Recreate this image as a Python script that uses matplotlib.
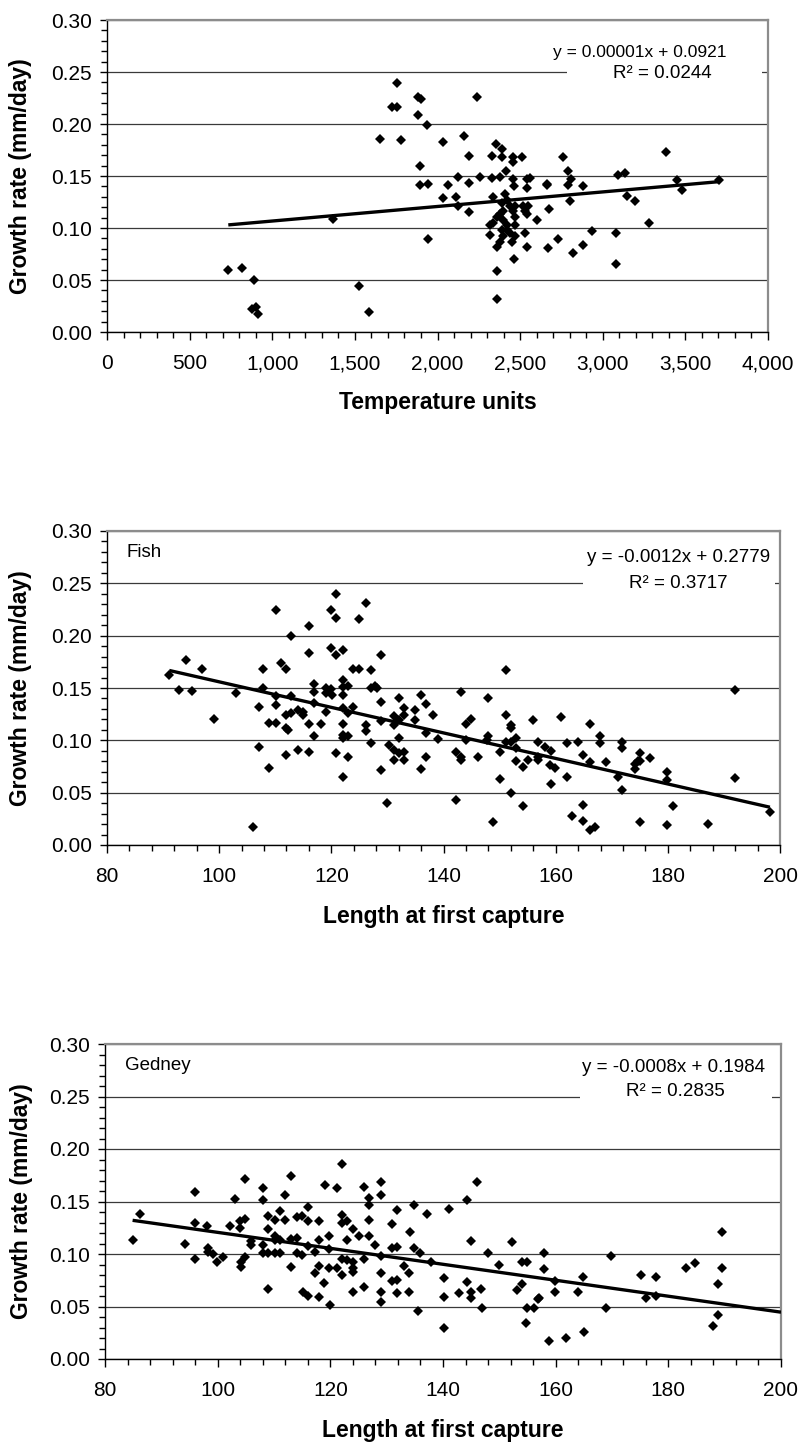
import numpy as np
import matplotlib.pyplot as plt
from matplotlib.ticker import MultipleLocator, FuncFormatter
from matplotlib.patches import Rectangle

plt.rcParams['font.family'] = ['Liberation Sans', 'DejaVu Sans']

W, H = 798, 1445

# ---------------------------------
# panel 1: growth vs temperature units
temp_units = [734, 818, 890, 878, 902, 914, 1369, 1523, 1586, 1652, 1777, 1757, 1727, 1757,
              1880, 1900, 1880, 1934, 1894, 1894, 1944, 1944,
              2237, 2035, 2162, 2192, 2352, 2392, 2331, 2392, 2458, 2509, 2458, 2757, 3383,
              2122, 2257, 2192, 2061, 2331, 2378, 2414, 2458, 2539, 2559, 2464, 2539, 2660,
              2664, 2792, 2808, 2787, 2882, 3090, 3134, 3447, 3477, 3705, 3144, 3195, 3278,
              2035, 2112, 2122, 2192, 2334,
              2409, 2419, 2389, 2439, 2469, 2459, 2399, 2378, 2358, 2338, 2318, 2398, 2419,
              2469, 2469, 2389, 2419, 2439, 2469, 2398, 2378, 2358, 2318, 2449, 2519, 2550,
              2530, 2540, 2530, 2540, 2600, 2677, 2671, 2731, 2818, 2883, 2933, 3080, 3080,
              2465, 2358, 2358, 2802]
growth_temp = [0.060, 0.062, 0.050, 0.022, 0.024, 0.017, 0.109, 0.044, 0.019, 0.186, 0.185, 0.239,
               0.216, 0.216, 0.226, 0.224, 0.209, 0.199, 0.160, 0.141, 0.142, 0.089,
               0.226, 0.183, 0.188, 0.169, 0.181, 0.176, 0.169, 0.168, 0.168, 0.168, 0.163,
               0.168, 0.173,
               0.149, 0.149, 0.143, 0.141, 0.148, 0.149, 0.155, 0.147, 0.147, 0.148, 0.140,
               0.138, 0.142, 0.141, 0.155, 0.147, 0.141, 0.140, 0.151, 0.153, 0.146, 0.137,
               0.146, 0.131, 0.126, 0.105,
               0.129, 0.130, 0.121, 0.115, 0.130,
               0.133, 0.127, 0.124, 0.121, 0.121, 0.116, 0.116, 0.113, 0.111, 0.105, 0.103,
               0.108, 0.103, 0.111, 0.103, 0.098, 0.098, 0.095, 0.092, 0.092, 0.087, 0.082,
               0.093, 0.087, 0.121, 0.121, 0.116, 0.113, 0.095, 0.082, 0.108, 0.118, 0.081,
               0.089, 0.076, 0.084, 0.097, 0.095, 0.065, 0.070, 0.059, 0.032, 0.126]
temp_slope, temp_intercept = 0.000014, 0.0927
temp_eq = ['y = 0.00001x + 0.0921', 'R² = 0.0244']

# ---------------------------------
# panel 2: Fish, growth vs length at first capture
fish_length = [91.1, 92.8, 94.1, 95.1, 96.9, 99.0, 103.0, 107.1, 107.1, 107.9, 107.9, 108.9, 108.9,
               110.1, 110.1, 110.1, 111.0, 111.9, 110.1, 111.9, 111.9, 112.2, 112.8, 112.8, 112.8,
               111.9, 114.1, 115.0, 115.0, 114.1, 116.0, 116.0, 116.0, 116.0, 116.9, 116.9, 116.9,
               116.9, 118.1, 119.1, 119.1, 119.9, 120.1, 119.1, 119.9, 119.9, 120.8, 120.8, 120.8,
               122.0, 122.0, 122.0, 122.0, 122.0, 120.8, 122.1, 122.1, 122.1, 123.0, 122.1, 123.0,
               123.0, 123.0, 123.9, 123.9, 125.0, 125.0, 126.1, 126.1, 126.1, 127.0, 127.0, 127.8,
               128.1, 127.0, 128.9, 128.9, 128.9, 128.9, 130.2, 131.1, 131.1, 132.0, 131.1, 131.1,
               132.0, 132.0, 132.0, 132.9, 132.9, 132.9, 132.9, 134.9, 134.9, 135.9, 136.9, 135.9,
               136.9,
               138.1, 136.9, 139.1, 143.1, 144.0, 144.9, 144.0, 142.2, 143.1, 143.1, 146.1, 148.0,
               148.0, 147.8, 150.1, 151.1, 151.1, 152.0, 152.0, 151.1, 152.0, 152.9, 152.9, 152.9,
               154.2, 155.1, 156.0, 156.9, 156.9, 156.9, 158.1, 159.0, 159.9, 159.1, 161.0, 162.1,
               164.0, 164.9, 166.2, 166.1, 167.9, 167.9, 169.0, 171.1, 171.9, 171.9, 174.1, 174.1,
               174.6, 175.0, 175.0, 176.9, 179.9, 192.0, 192.0,
               142.2, 148.9, 150.1, 152.0, 154.1, 159.1, 162.1, 163.0, 164.8, 164.8, 166.1, 167.0,
               171.9, 175.0, 179.9, 179.9, 180.9, 187.1, 198.2,
               106.1, 130.0]
fish_growth = [0.162, 0.148, 0.177, 0.147, 0.168, 0.120, 0.145, 0.132, 0.094, 0.168, 0.150, 0.074,
               0.117, 0.225, 0.134, 0.117, 0.174, 0.168, 0.142, 0.124, 0.112, 0.110, 0.200, 0.142,
               0.126, 0.086, 0.129, 0.127, 0.124, 0.091, 0.209, 0.183, 0.116, 0.089, 0.154, 0.146,
               0.136, 0.104, 0.116, 0.127, 0.150, 0.149, 0.143, 0.145, 0.225, 0.188, 0.240, 0.217,
               0.182, 0.186, 0.158, 0.151, 0.143, 0.131, 0.088, 0.116, 0.105, 0.102, 0.104, 0.065,
               0.152, 0.126, 0.084, 0.132, 0.168, 0.168, 0.216, 0.231, 0.115, 0.109, 0.167, 0.097,
               0.152, 0.150, 0.150, 0.182, 0.137, 0.118, 0.072, 0.096, 0.115, 0.123, 0.119, 0.091,
               0.081, 0.140, 0.102, 0.088, 0.131, 0.124, 0.089, 0.081, 0.129, 0.119, 0.143, 0.135,
               0.073, 0.084,
               0.124, 0.107, 0.101, 0.146, 0.116, 0.120, 0.100, 0.089, 0.084, 0.081, 0.084, 0.140,
               0.104, 0.100, 0.089, 0.167, 0.124, 0.115, 0.112, 0.098, 0.098, 0.102, 0.093, 0.080,
               0.075, 0.081, 0.119, 0.098, 0.084, 0.081, 0.094, 0.076, 0.074, 0.090, 0.122, 0.097,
               0.098, 0.086, 0.116, 0.079, 0.104, 0.097, 0.079, 0.065, 0.098, 0.093, 0.077, 0.073,
               0.080, 0.088, 0.080, 0.083, 0.070, 0.148, 0.064,
               0.043, 0.022, 0.063, 0.050, 0.037, 0.058, 0.065, 0.028, 0.038, 0.023, 0.014, 0.017,
               0.053, 0.022, 0.062, 0.019, 0.037, 0.020, 0.032,
               0.017, 0.040]
fish_slope, fish_intercept = -0.00122, 0.2779
fish_eq = ['y = -0.0012x + 0.2779', 'R² = 0.3717']

# ---------------------------------
# panel 3: Gedney, growth vs length at first capture
gedney_length = [84.9, 86.2, 94.2, 96.0, 96.0, 96.0, 98.1, 98.2, 98.2, 99.1, 99.9, 101.0, 102.2,
                 103.1, 104.0, 104.0, 104.1, 104.1, 104.9, 104.9, 104.9, 106.0, 106.0, 108.0,
                 108.0, 108.0, 108.0, 108.9, 108.9, 108.9, 108.9, 110.2, 110.2, 110.2, 110.2,
                 111.1, 111.1, 111.1, 112.0, 112.0, 113.1, 113.1, 113.1, 114.0, 114.0, 114.0,
                 114.9, 114.9, 115.1, 116.0, 116.0, 116.0, 116.0, 117.2, 117.2, 118.0, 118.0,
                 118.0, 118.0, 119.1, 118.9, 119.8, 119.8, 119.8, 121.1, 121.1, 122.0, 122.0,
                 122.0, 122.0, 122.0, 122.9, 122.9, 122.9, 124.0, 124.0, 124.0, 124.0, 124.0,
                 125.1, 126.0, 126.0, 126.0, 126.9, 126.9, 126.9, 126.9, 127.9, 129.0, 129.0,
                 129.0, 129.0, 129.0, 130.9, 130.9, 130.9, 131.8, 131.8, 131.8, 131.8, 133.0,
                 134.0, 134.0, 134.9, 134.9, 135.9, 137.1, 134.1,
                 137.9, 140.2, 140.2, 141.1, 142.9, 144.2, 144.2, 145.0, 145.0, 145.0, 146.0,
                 146.7, 148.0, 149.9, 152.2, 153.1, 154.0, 154.0, 154.9, 157.1, 157.9, 157.9,
                 159.9, 159.9, 164.0, 164.9, 169.8, 175.1, 177.8, 176.0, 177.8, 183.1, 184.7,
                 189.6, 189.6, 188.9,
                 119.9, 129.0, 135.6, 140.2, 146.9, 154.8, 154.9, 156.2, 156.9, 158.8, 161.8,
                 165.0, 168.9, 187.9, 188.9]
gedney_growth = [0.113, 0.138, 0.110, 0.159, 0.130, 0.095, 0.127, 0.106, 0.102, 0.100, 0.092, 0.097,
                 0.127, 0.152, 0.125, 0.131, 0.092, 0.088, 0.133, 0.097, 0.171, 0.112, 0.109,
                 0.163, 0.151, 0.109, 0.101, 0.136, 0.124, 0.101, 0.067, 0.132, 0.117, 0.113,
                 0.101, 0.141, 0.113, 0.101, 0.156, 0.132, 0.174, 0.114, 0.088, 0.135, 0.115,
                 0.101, 0.136, 0.099, 0.064, 0.145, 0.131, 0.108, 0.060, 0.102, 0.082, 0.131,
                 0.113, 0.089, 0.059, 0.166, 0.072, 0.117, 0.105, 0.087, 0.163, 0.087, 0.186,
                 0.137, 0.130, 0.095, 0.080, 0.131, 0.113, 0.094, 0.124, 0.092, 0.087, 0.083,
                 0.064, 0.117, 0.164, 0.095, 0.069, 0.153, 0.147, 0.132, 0.117, 0.109, 0.169,
                 0.156, 0.098, 0.082, 0.064, 0.129, 0.106, 0.074, 0.075, 0.107, 0.142, 0.063,
                 0.089, 0.082, 0.064, 0.147, 0.106, 0.101, 0.138, 0.121,
                 0.092, 0.077, 0.059, 0.143, 0.063, 0.073, 0.151, 0.112, 0.064, 0.058, 0.169,
                 0.067, 0.101, 0.090, 0.111, 0.066, 0.071, 0.092, 0.092, 0.058, 0.101, 0.086,
                 0.074, 0.064, 0.064, 0.078, 0.098, 0.080, 0.078, 0.058, 0.060, 0.087, 0.091,
                 0.121, 0.087, 0.071,
                 0.051, 0.054, 0.046, 0.030, 0.049, 0.034, 0.049, 0.049, 0.057, 0.017, 0.020,
                 0.026, 0.049, 0.031, 0.042]
gedney_slope, gedney_intercept = -0.00076, 0.1966
gedney_forecast = 10.4   # trendline carried forward to the axis end
gedney_eq = ['y = -0.0008x + 0.1984', 'R² = 0.2835']

# ---------------------------------
# figure

fig = plt.figure(figsize=(W / 100, H / 100), dpi=100)


def axes_px(left, top, right, bottom):
    return fig.add_axes([left / W, 1 - bottom / H, (right - left) / W, (bottom - top) / H])


def fig_text(x, y, s, **kw):
    return fig.text(x / W, 1 - y / H, s, **kw)


def white_box(x0, y0, x1, y1):
    fig.add_artist(Rectangle((x0 / W, 1 - y1 / H), (x1 - x0) / W, (y1 - y0) / H,
                             transform=fig.transFigure, facecolor='white',
                             edgecolor='none', zorder=5))


def style(ax, xlim, xmajor, xminor, xfmt, xlabel, wpx, hpx, ylab_off):
    ax.set_xlim(*xlim)
    ax.set_ylim(0, 0.30)
    ax.xaxis.set_major_locator(MultipleLocator(xmajor))
    ax.xaxis.set_minor_locator(MultipleLocator(xminor))
    ax.yaxis.set_major_locator(MultipleLocator(0.05))
    ax.yaxis.set_minor_locator(MultipleLocator(0.01))
    ax.yaxis.set_major_formatter(FuncFormatter(lambda v, p: f'{v:.2f}'))
    ax.xaxis.set_major_formatter(xfmt)
    ax.grid(axis='y', which='major', color='#3a3a3a', lw=0.9)
    ax.set_axisbelow(True)
    for s in ('top', 'right'):
        ax.spines[s].set_color('#8c8c8c')
        ax.spines[s].set_linewidth(1.6)
    for s in ('left', 'bottom'):
        ax.spines[s].set_color('black')
        ax.spines[s].set_linewidth(1.0)
    ax.tick_params(which='both', direction='out', width=1, color='black', labelsize=15)
    ax.tick_params(axis='y', which='major', length=5, pad=6)
    ax.tick_params(axis='y', which='minor', length=4.5)
    ax.tick_params(axis='x', which='major', length=6, pad=10)
    ax.tick_params(axis='x', which='minor', length=4)
    ax.set_xlabel(xlabel, fontsize=16.5, fontweight='bold', va='center')
    ax.xaxis.set_label_coords(0.5, -71 / hpx)
    ax.set_ylabel('Growth rate (mm/day)', fontsize=16.5, fontweight='bold', va='center')
    ax.yaxis.set_label_coords(-ylab_off / wpx, 0.5)


def scatter_trend(ax, x, y, slope, intercept, forecast=0.0):
    ax.plot(x, y, 'D', color='black', ms=5.2, mew=0, zorder=3, clip_on=False)
    xs = np.array([min(x), max(x) + forecast])
    ax.plot(xs, slope * xs + intercept, color='black', lw=2.4, zorder=4,
            solid_capstyle='butt')


thousands = FuncFormatter(lambda v, p: f'{v:,.0f}')
plain = FuncFormatter(lambda v, p: f'{v:.0f}')

# panel 1
ax1 = axes_px(107, 20, 768, 332)
scatter_trend(ax1, temp_units, growth_temp, temp_slope, temp_intercept)
style(ax1, (0, 4000), 500, 100, thousands, 'Temperature units', 661, 312, 107 - 21)
white_box(567, 40, 762, 86)
fig_text(640, 53, temp_eq[0], ha='center', va='center', fontsize=12.5, zorder=6)
fig_text(662, 73, temp_eq[1], ha='center', va='center', fontsize=13.5, zorder=6)

# panel 2
ax2 = axes_px(107, 531, 780, 845)
scatter_trend(ax2, fish_length, fish_growth, fish_slope, fish_intercept)
style(ax2, (80, 200), 20, 4, plain, 'Length at first capture', 673, 314, 107 - 21)
white_box(583, 545, 775, 596)
fig_text(679, 558, fish_eq[0], ha='center', va='center', fontsize=13.5, zorder=6)
fig_text(678, 583, fish_eq[1], ha='center', va='center', fontsize=13.5, zorder=6)
fig_text(127, 552, 'Fish', ha='left', va='center', fontsize=13.5)

# panel 3
ax3 = axes_px(105, 1044, 781, 1359)
scatter_trend(ax3, gedney_length, gedney_growth, gedney_slope, gedney_intercept,
              gedney_forecast)
style(ax3, (80, 200), 20, 4, plain, 'Length at first capture', 676, 315, 105 - 21)
white_box(580, 1056, 772, 1106)
fig_text(674, 1067, gedney_eq[0], ha='center', va='center', fontsize=13.5, zorder=6)
fig_text(675, 1092, gedney_eq[1], ha='center', va='center', fontsize=13.5, zorder=6)
fig_text(125, 1065, 'Gedney', ha='left', va='center', fontsize=13.5)

fig.savefig('out.png', dpi=100)
